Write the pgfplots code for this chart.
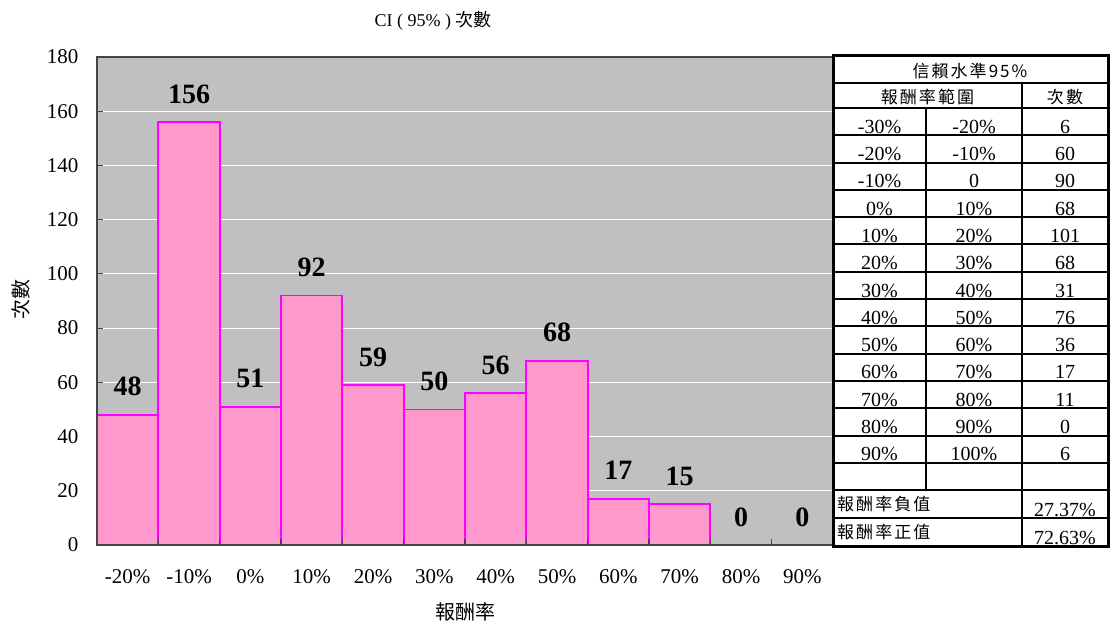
\documentclass[border=0pt]{standalone}
\usepackage{fontspec}
\usepackage{pgfplots}
\pgfplotsset{compat=1.18}
\setmainfont{Liberation Serif}
\newfontfamily\cjk{Noto Sans CJK TC}
\newfontfamily\cjksp[LetterSpace=12]{Noto Sans CJK TC}
\definecolor{plotbg}{RGB}{192,192,192}
\definecolor{barfill}{RGB}{255,153,204}
\definecolor{baredge}{RGB}{255,0,255}
\definecolor{axisdark}{RGB}{70,70,70}
\newcommand{\tabfont}{\fontsize{20}{20}\selectfont}
\newcommand{\tabcjk}{\fontsize{17}{17}\selectfont\cjksp}

\begin{document}
\begin{tikzpicture}
\useasboundingbox (0pt,0pt) rectangle (1110pt,627pt);
\begin{axis}[
  at={(97pt,82pt)}, anchor=south west,
  scale only axis, width=736pt, height=488pt,
  xmin=-0.5, xmax=11.5, ymin=0, ymax=180,
  axis background/.style={fill=plotbg},
  ytick={0,20,...,180},
  xtick={0,...,11},
  xticklabels={-20\%,-10\%,0\%,10\%,20\%,30\%,40\%,50\%,60\%,70\%,80\%,90\%},
  minor xtick={0.5,1.5,...,10.5},
  tick pos=left,
  tick align=inside,
  major tick length=6pt, minor tick length=6pt,
  major x tick style={draw=none},
  minor x tick style={axisdark, line width=1.2pt},
  major y tick style={axisdark, line width=1.2pt},
  ymajorgrids,
  major grid style={white, line width=1pt},
  axis line style={axisdark, line width=1.8pt},
  clip=false,
  /pgf/number format/assume math mode=true,
  ticklabel style={font=\fontsize{21}{21}\selectfont},
  xticklabel style={yshift=-21pt},
  yticklabel style={xshift=-15pt},
  every node near coord/.append style={anchor=base, yshift=19pt,
    font=\fontsize{28}{28}\selectfont\bfseries, text=black},
]
\addplot[ybar, bar width=1, fill=barfill, draw=baredge, line width=1.8pt,
  nodes near coords]
  coordinates {(0,48) (1,156) (2,51) (3,92) (4,59) (5,50) (6,56) (7,68)
               (8,17) (9,15) (10,0) (11,0)};
% bottom and left axis lines with the boundary ticks, drawn over the bars
\draw[axisdark, line width=1.2pt]
  \foreach \t in {0.5,1.5,...,10.5} {(axis cs:\t,0) -- ++(0pt,6pt)};
\draw[axisdark, line width=1.8pt]
  (axis cs:-0.5,180) -- (axis cs:-0.5,0) -- (axis cs:11.5,0);
\end{axis}

\begin{scope}[x=1pt, y=1pt]
% titles and axis labels
\node at (433,606) {\fontsize{18}{18}\selectfont CI ( 95\% ) {\cjk 次數}};
\node at (465,15) {\fontsize{20}{20}\selectfont\cjk 報酬率};
\node[rotate=90] at (21,327) {\fontsize{20}{20}\selectfont\cjk 次數};

% frequency table
\fill[white] (833.5,81) rectangle (1108,571);
\draw[line width=2pt]
  \foreach \p in {83,108,135.3,162.6,189.9,217.2,244.5,271.8,299.1,326.4,353.7,381.0,408.3,435.6,462.9,490,518}
  {(833.5,627-\p) -- (1108,627-\p)};
\draw[line width=2pt] (926,627-108) -- (926,627-490);
\draw[line width=2pt] (1022,627-83) -- (1022,627-546);
\draw[line width=3pt] (833.5,627-546) rectangle (1108,627-56);

\node at (970,627-71) {\tabcjk 信賴水準95\%};
\node at (927.5,627-97) {\tabcjk 報酬率範圍};
\node at (1065,627-97) {\tabcjk 次數};

\foreach \a/\b/\c [count=\i from 1] in {
  -30\%/-20\%/6, -20\%/-10\%/60, -10\%/0/90, 0\%/10\%/68, 10\%/20\%/101,
  20\%/30\%/68, 30\%/40\%/31, 40\%/50\%/76, 50\%/60\%/36, 60\%/70\%/17,
  70\%/80\%/11, 80\%/90\%/0, 90\%/100\%/6}
{
  \pgfmathsetmacro{\yb}{627-(108+27.3*\i)+2}
  \node[anchor=base, inner sep=0pt] at (879.5,\yb) {\tabfont\a};
  \node[anchor=base, inner sep=0pt] at (974,\yb) {\tabfont\b};
  \node[anchor=base, inner sep=0pt] at (1065,\yb) {\tabfont\c};
}

\node[anchor=west, inner sep=0pt] at (837,627-504) {\tabcjk 報酬率負值};
\node[anchor=west, inner sep=0pt] at (837,627-532) {\tabcjk 報酬率正值};
\node[anchor=base, inner sep=0pt] at (1065,627-516) {\tabfont 27.37\%};
\node[anchor=base, inner sep=0pt] at (1065,627-544) {\tabfont 72.63\%};
\end{scope}
\end{tikzpicture}
\end{document}
